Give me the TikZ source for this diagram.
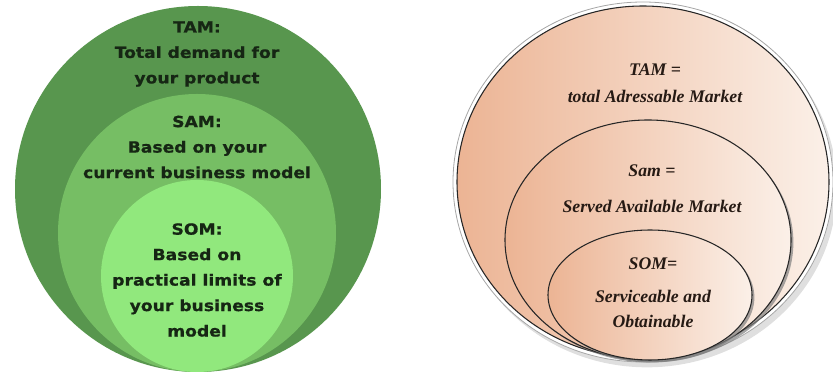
\documentclass[tikz,border=0pt]{standalone}
\usepackage{fontspec}
\newfontfamily\greenfont{DejaVu Sans}[FakeStretch=1.12,BoldFeatures={FakeBold=0.8}]
\newfontfamily\marketfont{Liberation Serif}
\usepackage{tikz}
\usetikzlibrary{positioning}
\usetikzlibrary{shadows}
\definecolor{tamgreen}{RGB}{88,150,78}
\definecolor{samgreen}{RGB}{118,190,100}
\definecolor{somgreen}{RGB}{145,232,125}
\definecolor{inkgreen}{RGB}{22,38,20}
\definecolor{peach}{RGB}{236,180,148}
\definecolor{cream}{RGB}{251,240,232}
\definecolor{inkbrown}{RGB}{38,26,20}
\tikzset{green label/.style={align=center,text=inkgreen,inner sep=0pt,
           font=\greenfont\bfseries\fontsize{11.5}{19.1}\selectfont},
         market font/.style={text=inkbrown,inner sep=0pt,
           font=\marketfont\bfseries\itshape\fontsize{13.3}{18.8}\selectfont},
         market head/.style={market font,text height=9pt,text depth=3pt},
         market text/.style={market font,align=center},
         peach fill/.style={left color=peach,right color=cream,draw=black!85,line width=0.8pt},}

\begin{document}
\begin{tikzpicture}[x=0.75pt,y=0.75pt]
	\useasboundingbox (0,0) rectangle (833,374);
	% green circles, all touching at the bottom
	\fill[tamgreen] (198,185) circle[radius=183];
	\fill[samgreen] (197,141) circle[radius=139];
	\fill[somgreen] (197,98) circle[radius=96];
	\node[green label] (tam) at (197,320) {TAM:\\Total demand for\\your product};
	\node[green label] (sam) at (197,227) {SAM:\\Based on your\\current business model};
	\node[green label] (som) at (197,94) {SOM:\\Based on\\practical limits of\\your business\\model};

	% peach ellipses with white rim and shadows
	\path[fill=white,draw=gray!70,line width=0.6pt,
	      drop shadow={shadow xshift=3pt,shadow yshift=-4pt,opacity=0.25}]
	    (643,192) ellipse[x radius=190,y radius=180];
	\path[peach fill] (643,192) ellipse[x radius=186,y radius=176];
	\path[peach fill,drop shadow={shadow xshift=1.8pt,shadow yshift=-1.8pt,opacity=0.7}]
	    (648,134) ellipse[x radius=143,y radius=120];
	\path[peach fill,drop shadow={shadow xshift=1.8pt,shadow yshift=-1.8pt,opacity=0.7}]
	    (650,79) ellipse[x radius=102,y radius=65];

	\node[market head] (tamr) at (655,302) {TAM =};
	\node[market head] (tamdef) [below = 7.5pt of tamr] {total Adressable Market};
	\node[market head] (samr) at (652,201) {Sam =};
	\node[market head] (samdef) [below = 14pt of samr] {Served Available Market};
	\node[market head] (somr) at (653,108) {SOM=};
	\node[market text] (somdef) [below = 12pt of somr] {Serviceable and\\Obtainable};
\end{tikzpicture}
\end{document}
